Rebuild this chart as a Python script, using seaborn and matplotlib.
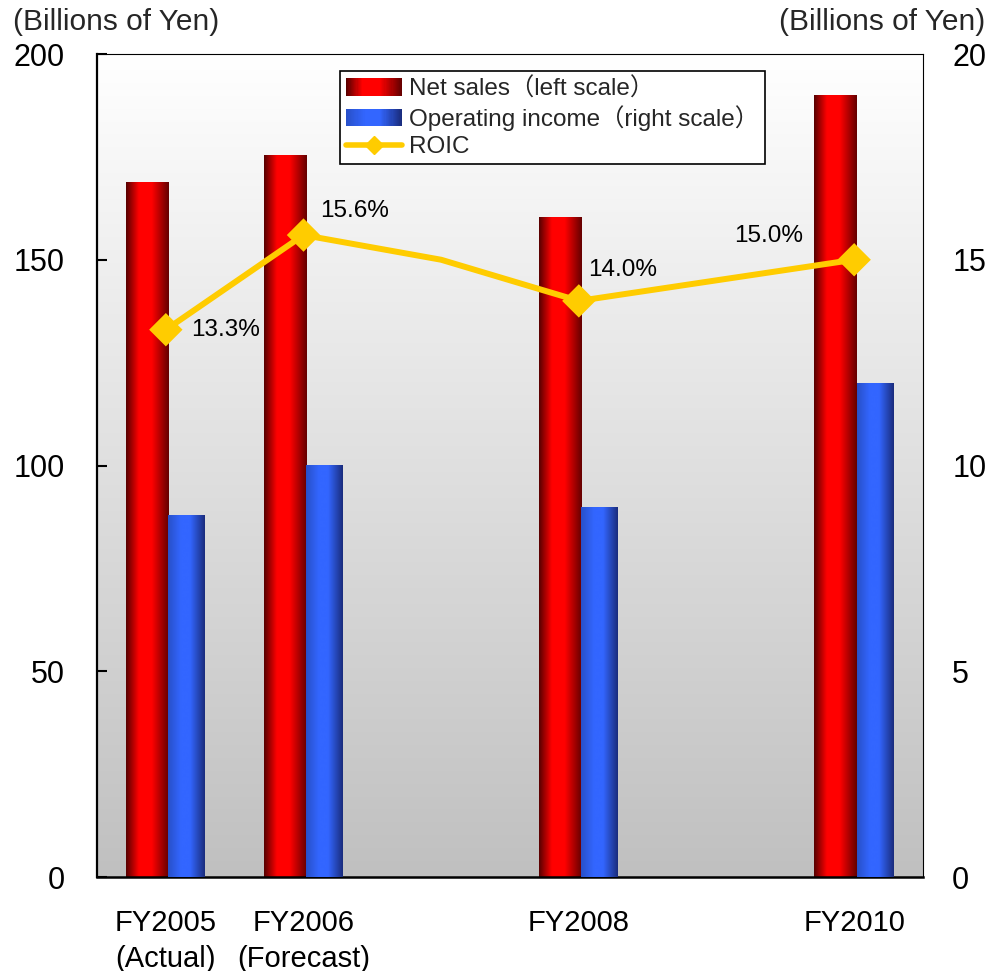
import numpy as np
import pandas as pd
import matplotlib
matplotlib.use("Agg")
import matplotlib.pyplot as plt
import seaborn as sns
from matplotlib.patches import Rectangle
from matplotlib.lines import Line2D
from matplotlib.legend_handler import HandlerBase
from matplotlib.colors import LinearSegmentedColormap

# ---- data -------------------------------------------------------------
categories = ["FY2005", "FY2006", "FY2007", "FY2008", "FY2009", "FY2010"]
tick_labels = ["FY2005\n(Actual)", "FY2006\n(Forecast)", "", "FY2008", "", "FY2010"]
net_sales = [169.0, 175.5, np.nan, 160.5, np.nan, 190.0]          # left scale
operating_income = [8.8, 10.0, np.nan, 9.0, np.nan, 12.0]          # right scale
roic = [13.3, 15.6, 15.0, 14.0, np.nan, 15.0]                      # right scale (%)
roic_labels = ["13.3%", "15.6%", "", "14.0%", "", "15.0%"]
roic_marked = [True, True, False, True, False, True]

sns.set_theme(style="white")
plt.rcParams["font.family"] = ["Liberation Sans", "Noto Sans CJK JP", "DejaVu Sans"]

W, H = 994, 971
fig = plt.figure(figsize=(W / 100, H / 100), dpi=100)
pos = [97 / W, 1 - 877 / H, (923 - 97) / W, (877 - 54) / H]

# soft vertical gradient behind the plot area
bg = fig.add_axes(pos, zorder=-1)
bg.imshow(np.linspace(1.0, 0.0, 256).reshape(-1, 1),
          cmap=LinearSegmentedColormap.from_list("bg", ["#c0c0c0", "#ffffff"]),
          aspect="auto", extent=(0, 1, 0, 1), origin="upper", vmin=0, vmax=1)
bg.set_axis_off()

ax = fig.add_axes(pos)
ax.patch.set_alpha(0)
ax2 = ax.twinx()

red_cmap = LinearSegmentedColormap.from_list(
    "red_tube", [(0, "#560000"), (0.3, "#ff0000"), (0.6, "#ff0000"), (1, "#640000")])
blue_cmap = LinearSegmentedColormap.from_list(
    "blue_tube", [(0, "#2850c8"), (0.35, "#3366ff"), (0.6, "#3366ff"), (1, "#1a2c7c")])

df = pd.DataFrame({"cat": categories, "sales": net_sales, "oi": operating_income})

sns.barplot(data=df, x="cat", y="sales", order=categories, ax=ax,
            color="#ff0000", width=0.306, errorbar=None, saturation=1)
sns.barplot(data=df, x="cat", y="oi", order=categories, ax=ax2,
            color="#3366ff", width=0.262, errorbar=None, saturation=1)

# place the two bars of each year side by side
red_left, red_w = -0.289, 0.306
blue_left, blue_w = 0.017, 0.262


def arrange(patches, left, width):
    out = []
    for p in patches:
        h = p.get_height()
        if h is None or np.isnan(h) or h == 0:
            p.set_visible(False)
            continue
        c = p.get_x() + p.get_width() / 2
        p.set_x(c + left)
        p.set_width(width)
        out.append(p)
    return out


red_bars = arrange(ax.patches, red_left, red_w)
blue_bars = arrange(ax2.patches, blue_left, blue_w)


def shade(axis, bars, cmap):
    grad = np.linspace(0, 1, 256).reshape(1, -1)
    for p in bars:
        x, y, w, h = p.get_x(), p.get_y(), p.get_width(), p.get_height()
        im = axis.imshow(grad, cmap=cmap, extent=(x, x + w, y, y + h),
                         aspect="auto", origin="lower", zorder=2,
                         interpolation="bilinear")
        im.set_clip_path(p)
        p.set_facecolor("none")
        p.set_edgecolor("none")


shade(ax, red_bars, red_cmap)
shade(ax2, blue_bars, blue_cmap)
ax.set_xlim(-0.5, len(categories) - 0.5)
ax.set_ylim(0, 200)
ax2.set_xlim(-0.5, len(categories) - 0.5)
ax2.set_ylim(0, 20)

# ROIC line
line_df = pd.DataFrame({"x": np.arange(len(categories)), "roic": roic,
                        "marked": roic_marked}).dropna()
sns.lineplot(data=line_df, x="x", y="roic", ax=ax2, color="#ffcc00",
             linewidth=4.3, zorder=5, sort=True)
mk = line_df[line_df["marked"]]
sns.scatterplot(data=mk, x="x", y="roic", ax=ax2, marker="D", s=17 ** 2,
                color="#ffcc00", edgecolor="none", zorder=6)

offsets = {0: (18, 0, "left"), 1: (12, 17, "left"), 3: (7, 22, "left"), 5: (-37, 17, "right")}
for i, lab in enumerate(roic_labels):
    if not lab:
        continue
    dx, dy, ha = offsets[i]
    ax2.annotate(lab, (i, roic[i]), xytext=(dx, dy), textcoords="offset points",
                 ha=ha, va="center", fontsize=17.5, color="black", zorder=7)

# axes styling
ax.set_xlabel("")
ax.set_ylabel("")
ax2.set_xlabel("")
ax2.set_ylabel("")
ax.set_yticks([0, 50, 100, 150, 200])
ax2.set_yticks([0, 5, 10, 15, 20])
ax.set_xticks(range(len(categories)))
ax.set_xticklabels(tick_labels, fontsize=21, linespacing=1.35)
ax.tick_params(axis="x", length=0, pad=23)
ax.tick_params(axis="y", direction="in", length=7.5, width=1.5, labelsize=22,
               pad=23, left=True, colors="black")
ax2.tick_params(axis="y", length=0, labelsize=22, pad=21, right=True)
for lab in ax.get_yticklabels() + ax2.get_yticklabels() + ax.get_xticklabels():
    lab.set_color("black")

for s in ax.spines.values():
    s.set_color("black")
    s.set_linewidth(0.8)
ax.spines["left"].set_linewidth(1.6)
ax.spines["bottom"].set_linewidth(1.8)
for s in ax2.spines.values():
    s.set_visible(False)
ax.grid(False)
ax2.grid(False)


class GradientPatchHandler(HandlerBase):
    def __init__(self, cmap):
        super().__init__()
        self.cmap = cmap

    def create_artists(self, legend, orig_handle, xdescent, ydescent,
                       width, height, fontsize, trans):
        n = 48
        arts = []
        for k in range(n):
            arts.append(Rectangle((-xdescent + width * k / n, -ydescent),
                                  width / n * 1.1, height,
                                  facecolor=self.cmap((k + 0.5) / n),
                                  edgecolor="none", transform=trans))
        return arts


h_sales = Rectangle((0, 0), 1, 1)
h_oi = Rectangle((0, 0), 1, 1, label="oi")
h_roic = Line2D([], [], color="#ffcc00", linewidth=4, marker="D", markersize=9)
leg = ax2.legend([h_sales, h_oi, h_roic],
                 ["Net sales（left scale）", "Operating income（right scale）", "ROIC"],
                 handler_map={h_sales: GradientPatchHandler(red_cmap),
                              h_oi: GradientPatchHandler(blue_cmap)},
                 loc="upper left", bbox_to_anchor=(0.294, 0.979),
                 borderaxespad=0, fontsize=17.5, frameon=True, fancybox=False,
                 edgecolor="black", framealpha=1, borderpad=0.25,
                 labelspacing=0.2, handlelength=2.3, handletextpad=0.3)
leg.get_frame().set_linewidth(1.2)
leg.set_zorder(10)

fig.text(13 / W, 1 - 22 / H, "(Billions of Yen)", ha="left", va="center", fontsize=21.5)
fig.text(985 / W, 1 - 22 / H, "(Billions of Yen)", ha="right", va="center", fontsize=21.5)

fig.savefig("out.png", dpi=100)
